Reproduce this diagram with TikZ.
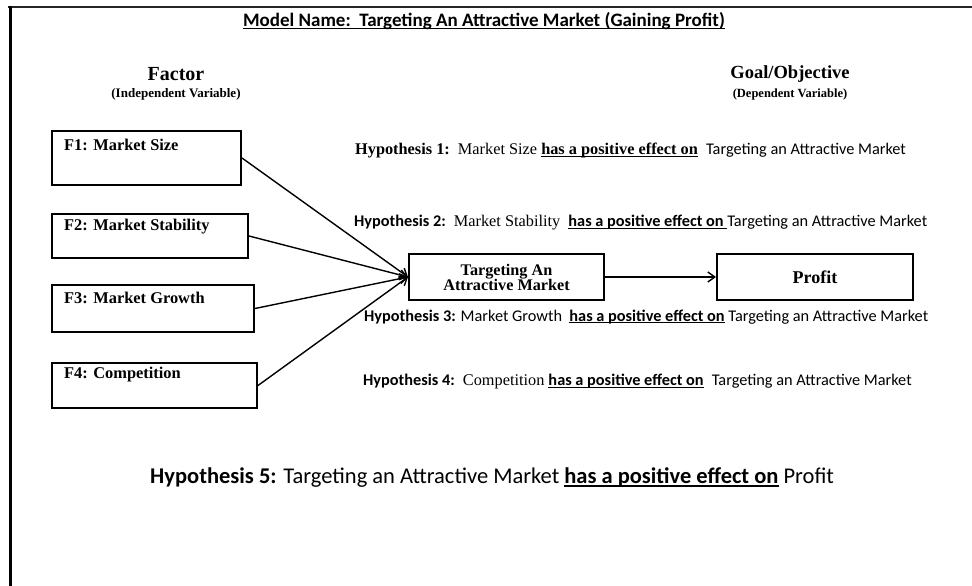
\documentclass[tikz,border=0pt]{standalone}
\usepackage{fontspec}
\setmainfont{Liberation Serif}
\newfontfamily\calfont{Carlito}
\usetikzlibrary{arrows.meta,calc}
% underline at a fixed depth below the baseline, crossing descenders
\newcommand\uln[1]{\leavevmode\setbox0\hbox{#1}\rlap{\rule[-0.13em]{\wd0}{0.065em}}\box0}

\begin{document}
\begin{tikzpicture}[x=1pt,y=-1pt,
  fbox/.style={draw,line width=2pt,inner sep=0pt,anchor=north west},
  flabel/.style={anchor=west,inner sep=0pt,font=\fontsize{16.4}{19}\selectfont\bfseries},
  hyp/.style={anchor=west,inner sep=0pt,font=\fontsize{16.3}{19}\selectfont},
  link/.style={line width=1.4pt,-{Straight Barb[length=7pt,width=10pt,line width=1.4pt]}},
  head/.style={inner sep=0pt,align=center}]
\useasboundingbox (0,0) rectangle (972,586);

% page frame
\draw[line width=2.2pt,black!85] (8,7) -- (972,7);
\draw[line width=3pt] (10,6) -- (10,586);

% title
\node[inner sep=0pt] (title) at (484,21)
  {\calfont\bfseries\fontsize{19}{22}\selectfont\uln{Model Name:\ \ Targeting An Attractive Market (Gaining Profit)}};

% column headings
\node[head] (factor) at (176,74) {\fontsize{20}{23}\selectfont\bfseries Factor};
\node[head] (factorsub) at (176,94) {\fontsize{13}{15}\selectfont\bfseries (Independent Variable)};
\node[head] (goal) at (790,74) {\fontsize{18.5}{22}\selectfont\bfseries Goal/Objective};
\node[head] (goalsub) at (790,94) {\fontsize{12.5}{14}\selectfont\bfseries (Dependent Variable)};

% factor boxes
\node[fbox,minimum width=189pt,minimum height=54pt] (f1) at (51,130) {};
\node[fbox,minimum width=196pt,minimum height=44pt] (f2) at (51,213) {};
\node[fbox,minimum width=202pt,minimum height=47pt] (f3) at (51,284) {};
\node[fbox,minimum width=205pt,minimum height=45pt] (f4) at (51,362) {};
\node[flabel] (f1t) at ($(f1.north west)+(13,15)$) {F1: Market Size};
\node[flabel] (f2t) at ($(f2.north west)+(13,14)$) {F2: Market Stability};
\node[flabel] (f3t) at ($(f3.north west)+(13,14)$) {F3: Market Growth};
\node[flabel] (f4t) at ($(f4.north west)+(13,13)$) {F4: Competition};

% mediator and outcome
\node[fbox,minimum width=195pt,minimum height=46pt,align=center,
      font=\fontsize{16.2}{15}\selectfont\bfseries] (tam) at (408,253)
  {Targeting An\\Attractive Market};
\node[fbox,minimum width=196pt,minimum height=46pt,
      font=\fontsize{18}{20}\selectfont\bfseries] (profit) at (716,253) {Profit};

% links
\draw[link] (f1.east) -- (tam.west);
\draw[link] (f2.east) -- (tam.west);
\draw[link] (f3.east) -- (tam.west);
\draw[link] (f4.east) -- (tam.west);
\draw[link] (tam.east) -- (profit.west);

% hypotheses
\node[hyp] (h1) at (355,151)
  {{\bfseries Hypothesis 1:}\ \ Market Size {\bfseries\uln{has a positive effect on}}\ \ {\calfont Targeting an Attractive Market}};
\node[hyp] (h2) at (354,223)
  {{\calfont\bfseries Hypothesis 2:}\ \ Market Stability\ \ {\calfont\bfseries\uln{has a positive effect on\ }}{\calfont Targeting an Attractive Market}};
\node[hyp] (h3) at (364,317)
  {\calfont{\bfseries Hypothesis 3:} Market Growth\ \ {\bfseries\uln{has a positive effect on}} Targeting an Attractive Market};
\node[hyp] (h4) at (363,382)
  {{\calfont\bfseries Hypothesis 4:}\ \ Competition {\calfont\bfseries\uln{has a positive effect on}}\ \ {\calfont Targeting an Attractive Market}};
\node[hyp,font=\fontsize{22.5}{26}\selectfont] (h5) at (150,478)
  {\calfont{\bfseries Hypothesis 5:} Targeting an Attractive Market {\bfseries\uln{has a positive effect on}} Profit};
\end{tikzpicture}
\end{document}
